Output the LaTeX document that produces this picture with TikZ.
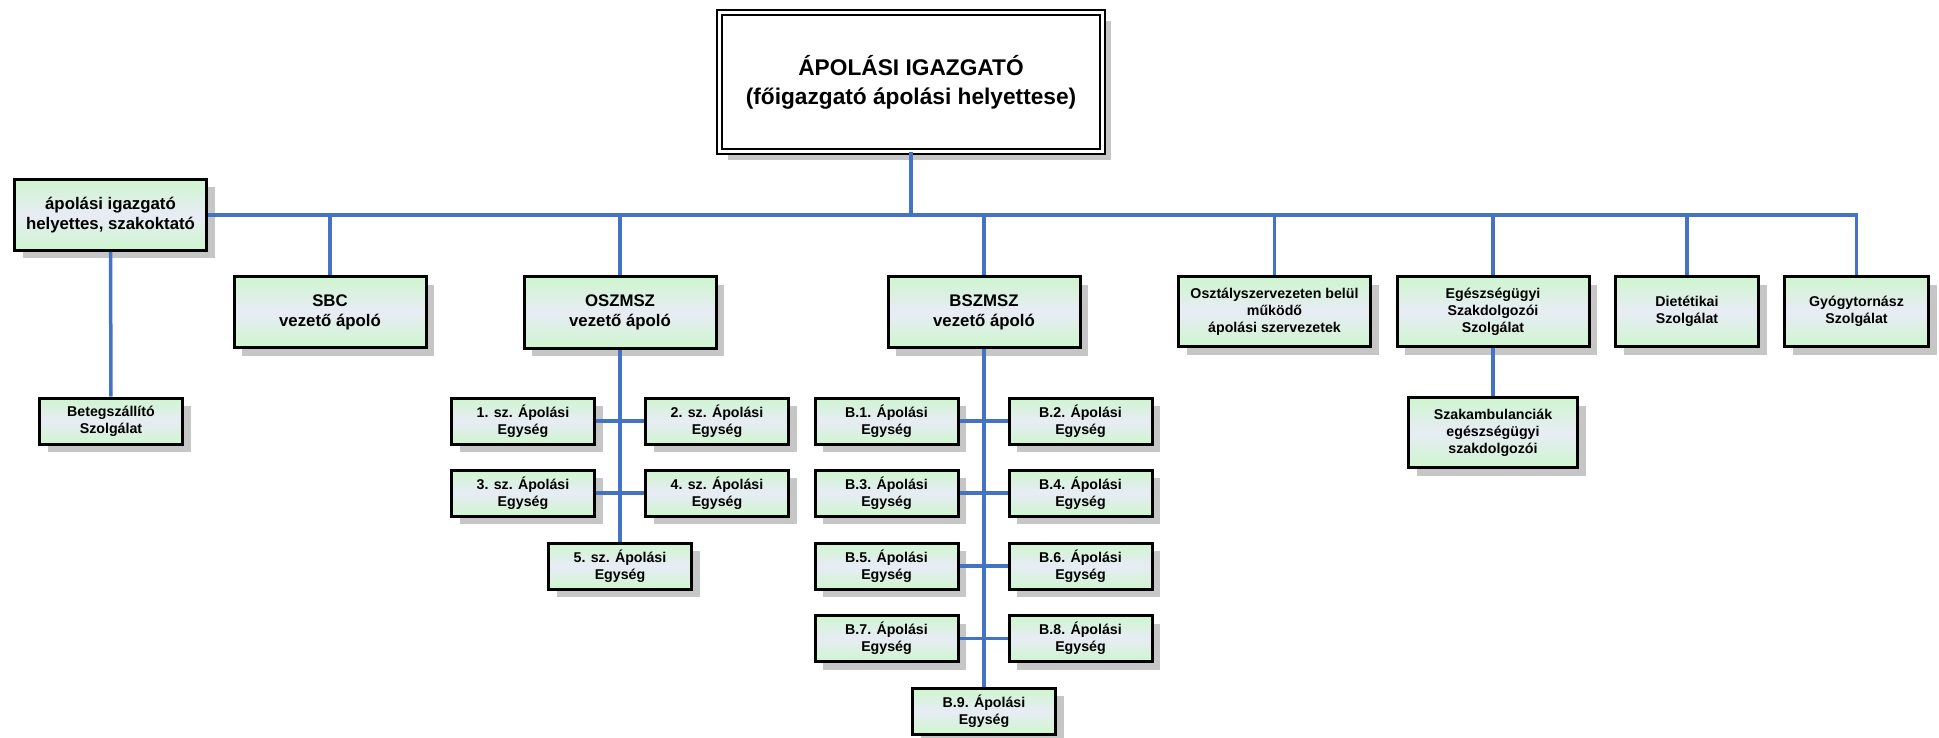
\documentclass[tikz,border=0pt]{standalone}
\usepackage{fontspec}
\setmainfont{Liberation Sans}
\usetikzlibrary{shadows}
\definecolor{gtop}{RGB}{206,246,206}
\definecolor{gmid}{RGB}{232,236,245}
\definecolor{conn}{RGB}{68,114,196}
\definecolor{shad}{RGB}{198,198,198}
\tikzset{
  box/.style={draw=black, line width=3pt, top color=gtop, bottom color=gtop, middle color=gmid,
    align=center, inner sep=2pt, font=\bfseries,
    drop shadow={shadow xshift=8pt, shadow yshift=-8pt, fill=shad, opacity=1}},
  bigbox/.style={box, font=\fontsize{16.8}{20}\selectfont\bfseries, minimum width=192pt, minimum height=71pt},
  midbox/.style={box, font=\fontsize{14.2}{17}\selectfont\bfseries, minimum height=70pt},
  unitbox/.style={box, font=\fontsize{14.2}{17}\selectfont\bfseries, minimum width=143pt, minimum height=46pt},
  topbox/.style={draw=black, line width=2pt, double=white, double distance=3pt, fill=white,
    align=center, font=\fontsize{22.7}{29}\selectfont\bfseries, minimum width=383pt, minimum height=139pt,
    drop shadow={shadow xshift=8pt, shadow yshift=-9pt, fill=shad, opacity=1}},
  link/.style={draw=conn, line width=3.5pt}
}
\begin{document}
\begin{tikzpicture}[x=1pt,y=-1pt]
\useasboundingbox (0,0) rectangle (1939,738);
% top
\node[topbox] (top) at (911,82) {ÁPOLÁSI IGAZGATÓ\\(főigazgató ápolási helyettese)};
% level 1
\node[bigbox] (ah) at (110.5,215) {ápolási igazgató\\helyettes, szakoktató};
\node[unitbox] (bet) at (111,421) {Betegszállító\\Szolgálat};
\node[bigbox] (sbc) at (330,312) {SBC\\vezető ápoló};
\node[bigbox] (osz) at (620,312.5) {OSZMSZ\\vezető ápoló};
\node[bigbox] (bsz) at (984,312) {BSZMSZ\\vezető ápoló};
\node[midbox, minimum width=192pt] (oszt) at (1274.5,311.5) {Osztályszervezeten belül\\működő\\ápolási szervezetek};
\node[midbox, minimum width=192pt] (egesz) at (1493,311.5) {Egészségügyi\\Szakdolgozói\\Szolgálat};
\node[midbox, minimum width=169pt] (szak) at (1493,432.5) {Szakambulanciák\\egészségügyi\\szakdolgozói};
\node[midbox, minimum width=143pt] (diet) at (1687,311.5) {Dietétikai\\Szolgálat};
\node[midbox, minimum width=144pt] (gyogy) at (1856.5,311.5) {Gyógytornász\\Szolgálat};
% OSZMSZ units
\node[unitbox] (o1) at (523,421) {1. sz. Ápolási\\Egység};
\node[unitbox] (o2) at (717,421) {2. sz. Ápolási\\Egység};
\node[unitbox] (o3) at (523,493) {3. sz. Ápolási\\Egység};
\node[unitbox] (o4) at (717,493) {4. sz. Ápolási\\Egység};
\node[unitbox] (o5) at (620,566) {5. sz. Ápolási\\Egység};
% BSZMSZ units
\node[unitbox] (b1) at (886.5,421) {B.1. Ápolási\\Egység};
\node[unitbox] (b2) at (1080.5,421) {B.2. Ápolási\\Egység};
\node[unitbox] (b3) at (886.5,493) {B.3. Ápolási\\Egység};
\node[unitbox] (b4) at (1080.5,493) {B.4. Ápolási\\Egység};
\node[unitbox] (b5) at (886.5,566) {B.5. Ápolási\\Egység};
\node[unitbox] (b6) at (1080.5,566) {B.6. Ápolási\\Egység};
\node[unitbox] (b7) at (886.5,638.5) {B.7. Ápolási\\Egység};
\node[unitbox] (b8) at (1080.5,638.5) {B.8. Ápolási\\Egység};
\node[unitbox] (b9) at (984,711) {B.9. Ápolási\\Egység};
% connectors
\draw[link] (ah.east) -- (gyogy.north |- ah.east) -- (gyogy.north);
\draw[link] (top.south) -- (top.south |- ah.east);
\foreach \n in {sbc,osz,bsz,oszt,egesz,diet}
  \draw[link] (\n.north) -- (\n.north |- ah.east);
\draw[link] (ah.south) -- (bet.north);
\draw[link] (egesz.south) -- (szak.north);
\draw[link] (osz.south) -- (o5.north);
\draw[link] (o1.east) -- (o2.west);
\draw[link] (o3.east) -- (o4.west);
\draw[link] (bsz.south) -- (b9.north);
\draw[link] (b1.east) -- (b2.west);
\draw[link] (b3.east) -- (b4.west);
\draw[link] (b5.east) -- (b6.west);
\draw[link] (b7.east) -- (b8.west);
\end{tikzpicture}
\end{document}
